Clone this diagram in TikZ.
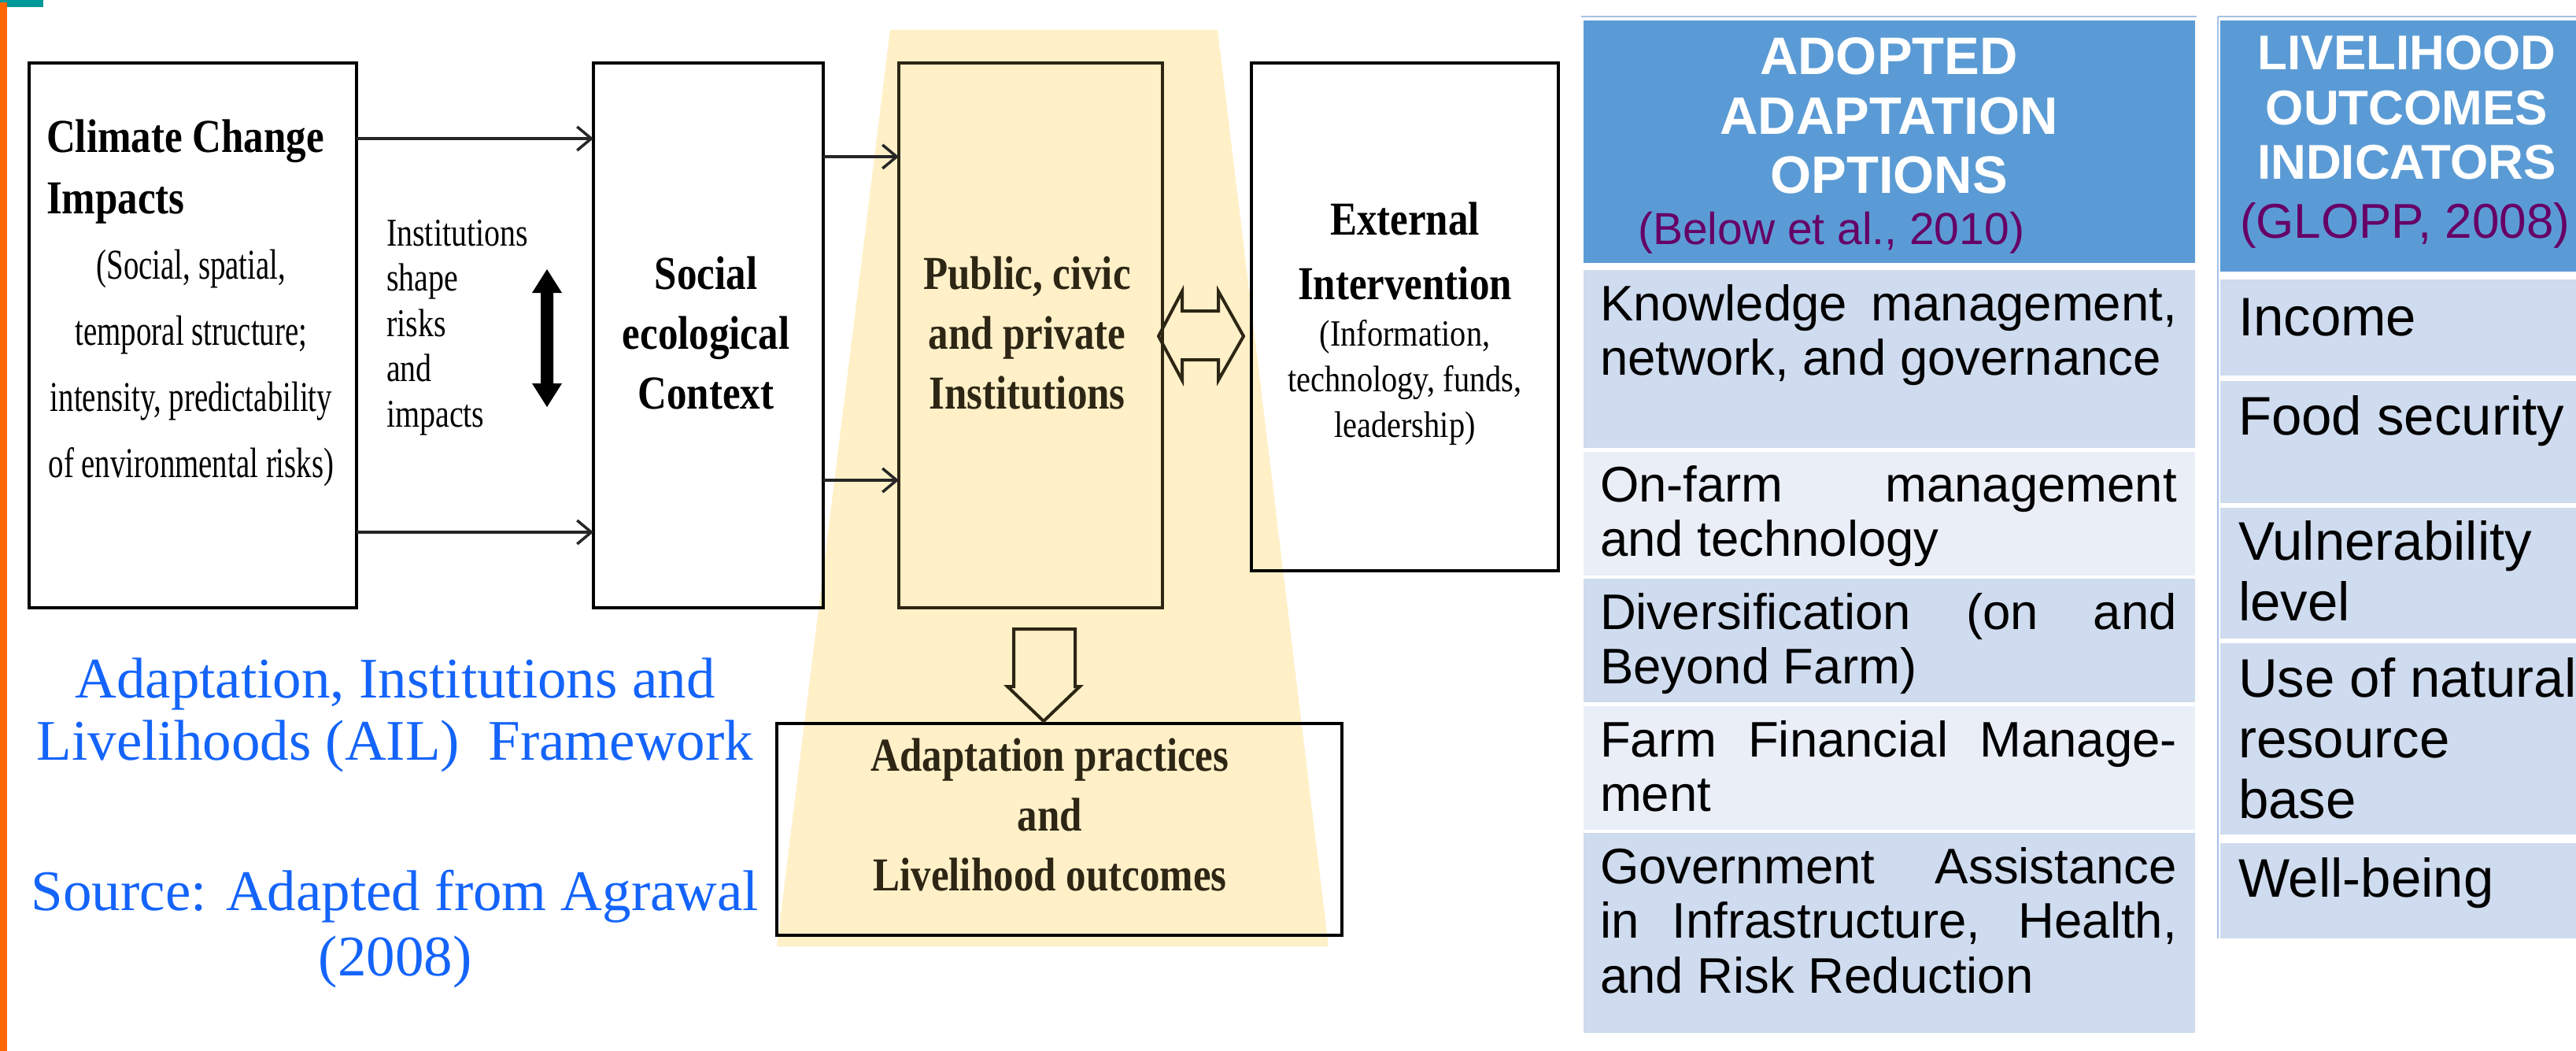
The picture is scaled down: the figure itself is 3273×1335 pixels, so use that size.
\documentclass[tikz,border=0pt]{standalone}
\usepackage{fontspec}
\setmainfont{Liberation Serif}
\newfontfamily\titleserif[FakeStretch=0.85]{Liberation Serif}
\newfontfamily\narrowserif[FakeStretch=0.72]{Liberation Serif}
\newfontfamily\noteserif[FakeStretch=0.80]{Liberation Serif}
\newfontfamily\midserif[FakeStretch=0.86]{Liberation Serif}
\newfontfamily\tablesans{Liberation Sans}
\usetikzlibrary{arrows.meta}

\definecolor{slideteal}{RGB}{0,153,153}
\definecolor{slideorange}{RGB}{255,102,0}
\definecolor{hdrblue}{RGB}{91,155,213}
\definecolor{banddark}{RGB}{207,219,238}
\definecolor{bandlight}{RGB}{233,238,247}
\definecolor{citepurple}{RGB}{102,0,102}
\definecolor{rulebl}{RGB}{165,193,228}
\definecolor{zoneyellow}{RGB}{255,240,200}
\definecolor{capblue}{RGB}{20,100,250}
\definecolor{inkbrown}{RGB}{45,38,20}

\tikzset{
  frame/.style={draw=black, line width=4pt, inner sep=0pt, outer sep=0pt},
  txt/.style={inner sep=0pt, outer sep=0pt},
  flow/.style={draw=black!85, line width=3.5pt,
    -{Straight Barb[length=18pt,width=30pt,line width=3.5pt]}},
  hollow/.style={draw=inkbrown, line width=4pt, line join=miter},
  boxtitle/.style={font=\titleserif\bfseries\fontsize{60}{76}\selectfont},
  cellhead/.style={txt, text=white},
  optbody/.style={txt, anchor=base west, font=\tablesans\fontsize{63.5}{69.5}\selectfont},
  indbody/.style={txt, anchor=base west, font=\tablesans\fontsize{69}{77}\selectfont},
}

\begin{document}
\begin{tikzpicture}[x=1pt, y=-1pt]
  \fill[white] (0,0) rectangle (3273,1335);
  \useasboundingbox (0,0) rectangle (3273,1335);

  % slide accents
  \fill[slideteal] (0,0) rectangle (55,9);
  \fill[slideorange] (0,3) rectangle (9,1335);

  % highlighted institutional zone
  \fill[zoneyellow] (1131,38) -- (1547,38) -- (1688,1202) -- (987,1202) -- cycle;

  % framework boxes
  \node[frame, minimum width=416pt, minimum height=692pt] (cci) at (245,426) {};
  \node[frame, minimum width=292pt, minimum height=692pt] (sec) at (900,426) {};
  \node[frame, draw=inkbrown, minimum width=335pt, minimum height=692pt] (pci) at (1309.5,426) {};
  \node[frame, minimum width=390pt, minimum height=645pt] (ext) at (1785,402.5) {};
  \node[frame, minimum width=718pt, minimum height=269pt] (apo) at (1346,1053.5) {};

  % box texts
  \node[txt, anchor=base west, font=\titleserif\bfseries\fontsize{60}{78}\selectfont]
    (cci-t) at (59,193) {\parbox[t]{390pt}{Climate Change\\Impacts}};
  \node[txt, anchor=base, font=\narrowserif\fontsize{54}{84}\selectfont]
    (cci-s) at (243,354) {\parbox[t]{400pt}{\centering (Social, spatial,\\ temporal structure;\\ intensity, predictability\\ of environmental risks)}};
  \node[txt, anchor=base west, font=\noteserif\fontsize{50}{57.5}\selectfont]
    (shape) at (491,312) {\parbox[t]{220pt}{\raggedright Institutions\\ shape\\ risks\\ and\\ impacts}};
  \node[txt, boxtitle, anchor=base] (sec-t) at (897,367)
    {\parbox[t]{280pt}{\centering Social\\ ecological\\ Context}};
  \node[txt, boxtitle, anchor=base, text=inkbrown] (pci-t) at (1305,367)
    {\parbox[t]{320pt}{\centering Public, civic\\ and private\\ Institutions}};
  \node[txt, anchor=base, font=\titleserif\bfseries\fontsize{60}{82}\selectfont]
    (ext-t) at (1785,298) {\parbox[t]{370pt}{\centering External\\ Intervention}};
  \node[txt, anchor=base, font=\midserif\fontsize{47}{58}\selectfont]
    (ext-s) at (1785,439) {\parbox[t]{370pt}{\centering (Information,\\ technology, funds,\\ leadership)}};
  \node[txt, boxtitle, anchor=base, text=inkbrown] (apo-t) at (1334,979)
    {\parbox[t]{700pt}{\centering Adaptation practices\\ and\\ Livelihood outcomes}};

  % connectors
  \draw[flow] (cci.east |- 0,176) -- (sec.west |- 0,176);
  \draw[flow] (cci.east |- 0,676) -- (sec.west |- 0,676);
  \draw[flow] (sec.east |- 0,199) -- (pci.west |- 0,199);
  \draw[flow] (sec.east |- 0,610) -- (pci.west |- 0,610);

  % solid two-way arrow beside the note
  \fill[black] (695,342) -- (714,372) -- (703,372) -- (703,487) -- (714,487)
    -- (695,517) -- (676,487) -- (687,487) -- (687,372) -- (676,372) -- cycle;

  % hollow two-way arrow between institutions and intervention
  \draw[hollow] (1472,427) -- (1502,370) -- (1502,395) -- (1548,395) -- (1548,370)
    -- (1580,427) -- (1548,483) -- (1548,457) -- (1502,457) -- (1502,483) -- cycle;

  % hollow block arrow down to outcomes
  \draw[hollow] (1288,799) -- (1366,799) -- (1366,872) -- (1372,872) -- (1326,916)
    -- (1280,872) -- (1288,872) -- cycle;

  % caption
  \node[txt, anchor=base, text=capblue, font=\fontsize{73}{79}\selectfont]
    (cap1) at (502,886) {\parbox[t]{1000pt}{\centering Adaptation, Institutions and\\ Livelihoods (AIL)\ \ Framework}};
  \node[txt, anchor=base, text=capblue, font=\fontsize{73}{83}\selectfont]
    (cap2) at (502,1156) {\parbox[t]{1000pt}{\centering Source: Adapted from Agrawal\\ (2008)}};

  % ---------- adaptation options table ----------
  \draw[rulebl, line width=2pt] (2009,21) -- (2791,21);
  \fill[hdrblue] (2012,26) rectangle (2789,334);
  \fill[banddark]  (2012,343)  rectangle (2789,569);
  \fill[bandlight] (2012,574)  rectangle (2789,731);
  \fill[banddark]  (2012,735)  rectangle (2789,892);
  \fill[bandlight] (2012,897)  rectangle (2789,1054);
  \fill[banddark]  (2012,1058) rectangle (2789,1312);

  \node[cellhead, anchor=base, font=\tablesans\bfseries\fontsize{67}{75.5}\selectfont]
    (opt-h) at (2400,95) {\parbox[t]{760pt}{\centering ADOPTED\\ ADAPTATION\\ OPTIONS}};
  \node[txt, anchor=base west, text=citepurple, font=\tablesans\fontsize{57}{62}\selectfont]
    (opt-c) at (2081,310) {(Below et al., 2010)};

  \node[optbody] (opt1) at (2033,407)
    {\parbox[t]{733pt}{\makebox[\linewidth][s]{Knowledge management,}\\ network, and governance}};
  \node[optbody] (opt2) at (2033,637)
    {\parbox[t]{733pt}{\makebox[\linewidth][s]{On-farm management}\\ and technology}};
  \node[optbody] (opt3) at (2033,799)
    {\parbox[t]{733pt}{\makebox[\linewidth][s]{Diversification (on and}\\ Beyond Farm)}};
  \node[optbody] (opt4) at (2033,961)
    {\parbox[t]{733pt}{\makebox[\linewidth][s]{Farm Financial Manage-}\\ ment}};
  \node[optbody] (opt5) at (2033,1122)
    {\parbox[t]{733pt}{\makebox[\linewidth][s]{Government Assistance}\\ \makebox[\linewidth][s]{in Infrastructure, Health,}\\ and Risk Reduction}};

  % ---------- livelihood indicators table ----------
  \draw[rulebl, line width=2pt] (2818,21) -- (3273,21);
  \draw[rulebl, line width=2pt] (2818,21) -- (2818,1192);
  \fill[hdrblue] (2821,26) rectangle (3273,345);
  \fill[banddark] (2821,355)  rectangle (3273,477);
  \fill[banddark] (2821,484)  rectangle (3273,639);
  \fill[banddark] (2821,645)  rectangle (3273,811);
  \fill[banddark] (2821,817)  rectangle (3273,1060);
  \fill[banddark] (2821,1071) rectangle (3273,1192);

  \node[cellhead, anchor=base, font=\tablesans\bfseries\fontsize{62}{69.5}\selectfont]
    (ind-h) at (3058,89) {\parbox[t]{460pt}{\centering LIVELIHOOD\\ OUTCOMES\\ INDICATORS}};
  \node[txt, anchor=base west, text=citepurple, font=\tablesans\fontsize{62}{68}\selectfont]
    (ind-c) at (2846,302) {(GLOPP, 2008)};

  \node[indbody] (ind1) at (2844,426) {Income};
  \node[indbody] (ind2) at (2844,552) {Food security};
  \node[indbody] (ind3) at (2844,711) {\parbox[t]{430pt}{\raggedright Vulnerability\\ level}};
  \node[indbody] (ind4) at (2844,885) {\parbox[t]{430pt}{\raggedright Use of natural\\ resource\\ base}};
  \node[indbody] (ind5) at (2844,1139) {Well-being};
\end{tikzpicture}
\end{document}
